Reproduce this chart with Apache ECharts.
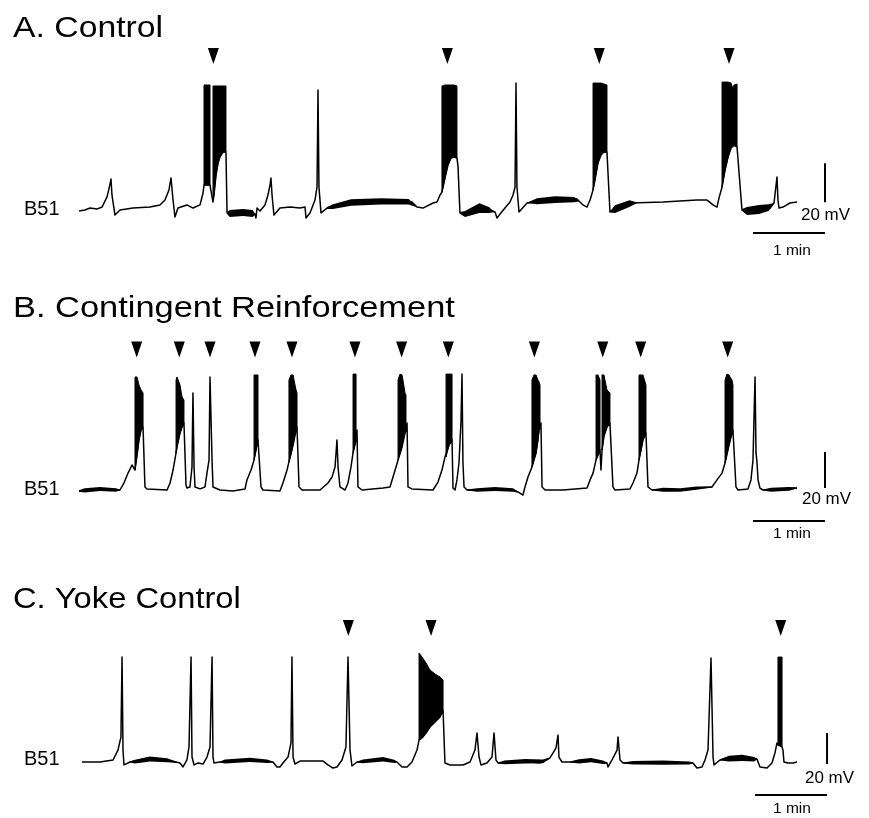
<!DOCTYPE html>
<html><head><meta charset="utf-8">
<script src="https://cdn.jsdelivr.net/npm/echarts@6/dist/echarts.min.js"></script>
<style>html,body{margin:0;padding:0;background:#fff}#c{width:869px;height:818px}</style>
</head><body><div id="c"></div>
<script>
// time in seconds, membrane potential in mV

// ---------- Panel A: Control ----------
const traceA = [
[3.3,-60.5],[8.3,-60],[12.5,-59.0],[18.3,-59.5],[22.5,-58.5],[26.7,-53.3],[29.2,-46.7],[30,-44.1],[30.8,-52.3],[33.3,-62.6],[37.5,-60],[48.3,-59.0],[62.5,-58.5],[70.8,-57.4],[75,-54.9],[78.3,-49.7],[80,-43.6],[81.7,-54.9],[83.3,-63.6],[85.8,-59.0],[93.3,-57.4],[98.3,-59.0],[104.2,-57.4],[106.7,-51.3],[107.5,-47.2],[112.5,-47.2],[113.3,-48.2],[115,-55.9],[115.8,-52.3],[117.5,-42.1],[119.2,-35.9],[120.8,-32.8],[123.3,-30.3],[125.8,-30.3],[126.7,-61.5],[129.2,-62.1],[137.5,-62.1],[145.8,-61.5],[150,-62.1],[150.8,-64.1],[151.7,-59.0],[154.2,-60.5],[158.3,-57.4],[160.8,-52.3],[162.5,-47.2],[163.3,-43.6],[164.2,-52.3],[165.8,-62.6],[170.8,-59.0],[179.2,-58.5],[187.5,-59.0],[191.7,-58.5],[192.5,-64.1],[195.8,-61.5],[200,-54.9],[201.7,-48.2],[202.5,1.5],[203.3,-48.2],[205,-61.5],[210,-59.0],[229.2,-56.4],[243.3,-55.9],[256.7,-55.9],[270.8,-55.4],[280.8,-55.9],[285,-58.5],[290,-59.0],[298.3,-56.4],[301.7,-55.9],[304.2,-52.3],[305.8,-50.8],[308.3,-43.6],[310.8,-36.9],[313.3,-33.3],[315.8,-32.8],[318.3,-33.3],[319.2,-37.9],[320.8,-61.5],[325,-62.6],[329.2,-61.0],[337.5,-59.0],[345.8,-60],[350,-61.0],[351.7,-64.1],[354.2,-62.1],[358.3,-59.0],[362.5,-55.9],[365,-52.3],[366.7,-48.2],[367.5,5.1],[368.3,-48.2],[370,-61.0],[376.7,-56.4],[393.3,-54.9],[406.7,-54.9],[418.3,-54.4],[423.3,-57.4],[426.7,-58.5],[429.2,-54.9],[431.7,-49.7],[433.3,-44.6],[435.8,-35.9],[438.3,-31.8],[440.8,-30.3],[443.3,-30.3],[445.8,-61.0],[451.7,-58.5],[462.5,-56.4],[490,-55.9],[518.3,-54.9],[526.7,-54.9],[531.7,-57.4],[535,-58.5],[536.7,-53.8],[539.2,-48.2],[541.7,-39.5],[544.2,-32.8],[546.7,-28.2],[549.2,-26.7],[551.7,-27.7],[555.8,-60],[562.5,-61.0],[570.8,-60.5],[579.2,-59.0],[582.5,-56.4],[585,-43.1],[585.8,-54.9],[586.7,-59.0],[590,-58.5],[595.8,-56.4],[601.7,-55.9]
];
// bursts: [time, lower envelope, upper envelope]
const burstsA = [
[[107.5,-47.2,4.1],[112.5,-47.2,4.1]],
[[115,-54.9,3.6],[115.8,-52.3,3.6],[117.5,-42.1,3.6],[119.2,-35.9,3.6],[120.8,-32.8,3.6],[123.3,-30.3,3.6],[125.8,-30.3,3.6]],
[[305.8,-50.8,3.6],[308.3,-43.6,4.1],[310.8,-36.9,4.1],[313.3,-33.3,4.1],[315.8,-32.8,4.1],[318.3,-33.3,3.6]],
[[431.7,-49.7,5.1],[433.3,-44.6,5.1],[435.8,-35.9,5.1],[438.3,-31.8,5.1],[440.8,-30.3,4.6],[443.3,-30.3,4.1]],
[[539.2,-48.2,5.6],[541.7,-39.5,5.6],[544.2,-32.8,5.6],[546.7,-28.2,5.1],[548.3,-27,2.1],[549.2,-26.7,4.1],[551.7,-27.7,4.6]]
];
// baseline noise envelopes: [time, lower, upper]
const noiseA = [
[[126.7,-62,-61],[129,-63.6,-60],[140,-63.1,-59.5],[148,-63.6,-60],[150,-62.5,-61.8]],
[[210,-59.5,-58.5],[215,-59.5,-57],[230,-57.8,-54.5],[255,-57.2,-54],[278,-57.2,-54.4],[285,-58.6,-58.2]],
[[321,-62,-61],[325,-63.6,-60.5],[337,-61.5,-56.5],[345,-61.5,-58.5],[349,-61.2,-60.8]],
[[377,-56.6,-56.2],[385,-57,-54],[400,-56.4,-53],[416,-56,-53.3],[420,-55.7,-55.1]],
[[446,-61.3,-60.7],[450,-61.5,-57.5],[462,-58.5,-55],[468,-56.5,-56]],
[[556,-60.5,-59.5],[560,-62.6,-58.5],[570,-62,-57.4],[578,-60.5,-57],[582,-57.1,-56.5]]
];
const arrowsA = [115.3, 310.3, 436.9, 545];

// ---------- Panel B: Contingent Reinforcement ----------
const traceB = [
[3.3,-60.6],[20.8,-59.4],[37.5,-60],[40.8,-56.1],[44.2,-50.6],[47.5,-46.1],[50,-48.9],[51.7,-40.6],[53.3,-32.2],[55,-26.7],[56.7,-25],[57.5,-25],[58.3,-58.3],[60,-59.4],[76.7,-60],[79.2,-56.1],[81.7,-48.9],[84.2,-39.4],[85,-36],[87.5,-28.3],[89.2,-25],[90.8,-22.8],[91.7,-22.8],[92.5,-57.2],[93.3,-58.9],[95.8,-58.3],[97.5,-47.2],[98.3,-6.1],[99.2,-47.2],[100,-58.3],[104.2,-59.4],[108.3,-58.3],[110,-50.6],[111.7,-43.3],[112.5,2.8],[114.2,-43.3],[115,-58.3],[120.8,-60],[131.7,-60.6],[141.7,-59.4],[143.3,-54.4],[146.7,-48.9],[149.2,-43.3],[150.8,-37.8],[152.5,-32.2],[153.3,-32.2],[155,-58.3],[156.7,-60],[170.8,-60.6],[173.3,-56.1],[176.7,-48.9],[178.3,-44.4],[181.7,-35],[184.2,-26.7],[185,-25],[185.8,-25],[186.7,-58.3],[189.2,-60],[204.2,-60],[210.8,-56.1],[214.2,-52.8],[216.7,-47.2],[218.3,-32.2],[219.2,-47.2],[220.8,-58.3],[225,-60],[227.5,-56.1],[230,-47.2],[231.7,-39.4],[234.2,-32.2],[235,-26.7],[235.8,-58.3],[239.2,-60],[256.7,-58.9],[262.5,-58.3],[265,-52.8],[267.5,-47.2],[269.2,-43.3],[272.5,-36.1],[275,-28.3],[275.8,-26.7],[276.7,-22.8],[277.5,-58.3],[280.8,-59.4],[298.3,-60],[302.5,-55.6],[305.8,-48.9],[308.3,-41.7],[309.2,-41.7],[311.7,-35],[314.2,-32.2],[315,-58.9],[316.7,-60],[318.3,-54.4],[320,-45],[321.7,-21.1],[322.5,4.4],[323.3,-45],[324.2,-58.3],[326.7,-60],[337.5,-60],[351.7,-59.4],[365,-60],[369.2,-61.1],[373.3,-62.8],[375,-58.3],[377.5,-52.8],[380.8,-47.2],[384.2,-39.4],[386.7,-26.7],[387.5,-25],[388.3,-22.8],[389.2,-58.3],[391.7,-60],[406.7,-60],[426.7,-58.9],[429.2,-54.4],[431.7,-50.6],[434.2,-43.3],[435.8,-40.6],[437.5,-37.8],[438.3,-48.9],[439.2,-37.8],[440.8,-30],[443.3,-25],[445.8,-22.8],[446.7,-22.8],[448.3,-58.3],[450,-60],[462.5,-59.4],[465,-56.1],[468.3,-50.6],[470,-43.3],[473.3,-32.2],[475.8,-28.3],[476.7,-28.3],[477.5,-58.3],[480.8,-60],[504.2,-60],[518.3,-58.9],[530.8,-58.3],[535,-54.4],[539.2,-50.6],[541.7,-45],[545,-35],[547.5,-28.3],[548.3,-26.7],[549.2,-26.7],[550.8,-58.3],[552.5,-60],[560.8,-59.4],[563.3,-54.4],[565,-43.3],[565.8,-21.1],[566.7,2.8],[567.5,-39.4],[568.3,-44.4],[569.2,-54.4],[570.8,-58.9],[573.3,-60],[587.5,-59.4],[601.7,-58.9]
];
const burstsB = [
[[50,-48.9,2.8],[51.7,-40.6,2.8],[53.3,-32.2,-1.7],[55,-26.7,-4.4],[56.7,-25,-6.1]],
[[84.2,-39.4,1.1],[85,-36,2.8],[87.5,-28.3,-1.7],[89.2,-25,-8.3],[90.8,-22.8,-10]],
[[149.2,-43.3,3.9],[150.8,-37.8,3.9],[152.5,-32.2,3.9]],
[[178.3,-44.4,1.1],[180,-40,3.9],[181.7,-35,3.9],[182.5,-32,1.1],[184.2,-26.7,-4.4],[185,-25,-6.1]],
[[231.7,-39.4,4.4],[234.2,-32.2,4.4]],
[[269.2,-43.3,1.1],[270.8,-40,4.4],[272.5,-36.1,3.9],[273.3,-33,1.1],[275,-28.3,-6.1],[275.8,-26.7,-7.2]],
[[309.2,-41.7,4.4],[311.7,-35,4.4],[314.2,-32.2,4.4]],
[[380.8,-47.2,1.1],[382.5,-43,3.9],[384.2,-39.4,3.9],[385.8,-33,1.1],[386.7,-26.7,0],[387.5,-25,-1.7]],
[[434.2,-43.3,3.9],[435.8,-40.6,3.9],[437.5,-37.8,1.1]],
[[439.2,-37.8,3.9],[440.8,-30,3.9],[443.3,-25,-4.4],[445.8,-22.8,-6.1]],
[[470,-43.3,3.9],[471.7,-38,3.9],[473.3,-32.2,3.9],[475.8,-28.3,-1.7]],
[[541.7,-45,1.1],[543.3,-40,4.4],[545,-35,3.9],[545.8,-33,2.8],[547.5,-28.3,1.1],[548.3,-26.7,-1.7]]
];
const noiseB = [
[[3.3,-61,-60.2],[8,-61.4,-59],[20.8,-60.6,-58.4],[34,-61,-59],[37.5,-60.3,-59.7]],
[[326.7,-60.3,-59.7],[335,-61,-59],[350,-60.6,-58.4],[365,-61,-59],[369,-61.4,-60.8]],
[[480.8,-60.3,-59.7],[490,-61,-58.8],[504.2,-61,-59],[518,-59.8,-58],[530.8,-58.6,-58]],
[[573.3,-60.3,-59.7],[580,-61,-58.8],[595,-60.4,-58.4],[601.7,-59.2,-58.6]]
];
const arrowsB = [51.4, 86.9, 112.5, 150, 180.8, 233.3, 272.2, 311.1, 382.8, 439.8, 471.4, 543.9];

// ---------- Panel C: Yoke Control ----------
const traceC = [
[5.8,-60],[20.8,-60],[31.7,-58.7],[35.8,-52.3],[38.3,-43.9],[39.2,7.7],[40,-52.3],[40.8,-61.9],[45.8,-60],[62.5,-57.4],[76.7,-58.7],[87.5,-60.6],[90,-63.2],[93.3,-58.7],[95,-50.3],[96.7,7.7],[97.5,-56.8],[99.2,-61.9],[102.5,-60.6],[106.7,-61.3],[110,-56.8],[112.5,-50.3],[114.2,7.7],[115,-56.8],[115.8,-60.6],[120.8,-60],[145.8,-58.7],[165,-60],[168.3,-63.2],[170.8,-63.2],[173.3,-60.6],[177.5,-56.8],[180,-47.7],[180.8,7.7],[181.7,-56.8],[183.3,-61.3],[187.5,-59.4],[206.7,-59.4],[210.8,-61.9],[215,-63.9],[218.3,-63.2],[222.5,-58.7],[225.8,-50.3],[227.5,7.7],[229.2,-52.3],[230.8,-62.6],[235,-60],[256.7,-58.1],[268.3,-60],[272.5,-63.2],[276.7,-63.2],[280.8,-60],[285,-52.3],[286.7,-45.8],[289.2,-44.5],[292.5,-41.3],[295.8,-37.4],[300,-34.2],[304.2,-31],[306.7,-26.5],[308.3,-60.6],[312.5,-61.9],[323.3,-61.9],[329.2,-60],[333.3,-52.3],[335,-41.3],[336.7,-56.8],[338.3,-61.9],[343.3,-60.6],[347.5,-56.8],[349.2,-41.3],[350.8,-58.7],[352.5,-60.6],[365,-60],[379.2,-60],[387.5,-60.6],[395.8,-57.4],[400.8,-51],[402.5,-42.6],[403.3,-56.8],[405.8,-60],[412.5,-60],[429.2,-58.7],[443.3,-60.6],[444.2,-63.2],[447.5,-58.7],[451.7,-52.3],[452.5,-43.9],[454.2,-58.7],[456.7,-60.6],[476.7,-60.6],[504.2,-60.6],[515,-60.6],[518.3,-63.9],[522.5,-63.2],[525,-58.7],[527.5,-52.3],[530,7.1],[531.7,-56.8],[532.5,-61.9],[537.5,-58.7],[545.8,-56.8],[568.3,-58.1],[570.8,-63.2],[576.7,-63.9],[580.8,-60.6],[583.3,-54.2],[585,-47.7],[585.8,-49],[587.5,-49.5],[589.2,-50.3],[590,-52.3],[590.8,-60],[594.2,-60.6],[598.3,-60.6],[601.7,-60]
];
const burstsC = [
[[286.7,-45.8,10.3],[289.2,-44.5,7.7],[292.5,-41.3,3.9],[295.8,-37.4,-0.6],[300,-34.2,-3.2],[304.2,-31,-5.2],[306.7,-26.5,-7.1]],
[[585.8,-49,7.7],[587.5,-49.5,7.7],[589.2,-50.3,7.7]]
];
const noiseC = [
[[45.8,-60.3,-59.7],[50,-61,-58.6],[62.5,-59.6,-56.4],[76.7,-60.2,-57.6],[86,-60.7,-60.1]],
[[120.8,-60.3,-59.7],[125,-61,-58.4],[145.8,-60,-57.2],[160,-60.6,-58.4],[165,-60.3,-59.7]],
[[235,-60.3,-59.7],[240,-60.8,-58.4],[256.7,-59.6,-56.8],[266,-60.6,-58.6],[268.3,-60.3,-59.7]],
[[352.5,-60.9,-60.3],[358,-61.4,-59],[375,-61,-58],[390,-60.8,-58.4],[395.8,-57.7,-57.1]],
[[412.5,-60.3,-59.7],[420,-61,-58.2],[430,-60.2,-57.4],[440,-61.3,-59],[443.3,-60.9,-60.3]],
[[456.7,-60.9,-60.3],[465,-61.6,-59.4],[490,-61.8,-59],[512,-61.6,-59.6],[515,-60.9,-60.3]],
[[537.5,-59,-58.4],[545,-59.6,-56],[556,-59.4,-55.4],[566,-59.6,-56.8],[568.3,-58.4,-57.8]]
];
const arrowsC = [227.8, 296.7, 588.1];

const titles = ['A. Control', 'B. Contingent Reinforcement', 'C. Yoke Control'];
const cellLabel = 'B51';
const scaleV = '20 mV', scaleH = '1 min';
const scaleMv = 20, scaleSec = 60;

// ---------- layout ----------
const FONT = '"Liberation Sans", Arial, Helvetica, sans-serif';
const panels = [
  {trace: traceA, bursts: burstsA, noise: noiseA, arrows: arrowsA,
   top: 34.5, height: 214.5, yMin: -80, yMax: 30, arrowY: 19,
   barT: 565, barV: -56, barH: -71.8,
   titleY: 28.5, titleSX: 1.125, labelY: 209, mvY: 215.5, mvX: 801, minY: 250.5},
  {trace: traceB, bursts: burstsB, noise: noiseB, arrows: arrowsB,
   top: 328, height: 198, yMin: -80, yMax: 30, arrowY: 18.1,
   barT: 565, barV: -58.9, barH: -77.2,
   titleY: 308.5, titleSX: 1.147, labelY: 489.5, mvY: 500, mvX: 802, minY: 534},
  {trace: traceC, bursts: burstsC, noise: noiseC, arrows: arrowsC,
   top: 622.5, height: 178.25, yMin: -85, yMax: 30, arrowY: 26.5,
   barT: 566.7, barV: -61.3, barH: -81.3,
   titleY: 600, titleSX: 1.09, labelY: 759.5, mvY: 779, mvX: 805, minY: 809}
];

function envelopeSeries(envs, gi, strokeW) {
  return {
    type: 'custom', xAxisIndex: gi, yAxisIndex: gi, silent: true, animation: false, clip: false, z: 3,
    data: envs.map((e, i) => [e[0][0], e[0][1], i]),
    renderItem: function (params, api) {
      const e = envs[params.dataIndex];
      const up = e.map(p => api.coord([p[0], p[2]]));
      const lo = e.slice().reverse().map(p => api.coord([p[0], p[1]]));
      return {type: 'polygon', shape: {points: up.concat(lo)},
              style: {fill: '#000', stroke: strokeW ? '#000' : null, lineWidth: strokeW}};
    }
  };
}

const grids = [], xAxes = [], yAxes = [], series = [], graphics = [];
panels.forEach((p, gi) => {
  grids.push({left: 75, width: 756, top: p.top, height: p.height});
  xAxes.push({type: 'value', gridIndex: gi, min: 0, max: 630, show: false});
  yAxes.push({type: 'value', gridIndex: gi, min: p.yMin, max: p.yMax, show: false});
  series.push({type: 'line', xAxisIndex: gi, yAxisIndex: gi, data: p.trace, showSymbol: false,
    symbol: 'none', animation: false, silent: true, z: 4,
    lineStyle: {color: '#000', width: 1.5, join: 'round'}});
  series.push(envelopeSeries(p.bursts, gi, 1));
  series.push(envelopeSeries(p.noise, gi, 0));
  series.push({type: 'scatter', xAxisIndex: gi, yAxisIndex: gi, silent: true, animation: false,
    symbol: 'path://M0,0L10,0L5,15Z', symbolSize: [11, 16], itemStyle: {color: '#000', opacity: 1},
    data: p.arrows.map(t => [t, p.arrowY])});
  // scale bars
  series.push({type: 'line', xAxisIndex: gi, yAxisIndex: gi, silent: true, animation: false, clip: false,
    symbol: 'none', lineStyle: {color: '#000', width: 2},
    data: [[p.barT + scaleSec, p.barV], [p.barT + scaleSec, p.barV + scaleMv]]});
  series.push({type: 'line', xAxisIndex: gi, yAxisIndex: gi, silent: true, animation: false, clip: false,
    symbol: 'none', lineStyle: {color: '#000', width: 2},
    data: [[p.barT, p.barH], [p.barT + scaleSec, p.barH]]});
  // texts
  graphics.push({type: 'text', x: 13, y: p.titleY, scaleX: p.titleSX, silent: true,
    style: {text: titles[gi], font: '30px ' + FONT, fill: '#000', textVerticalAlign: 'middle', textAlign: 'left'}});
  graphics.push({type: 'text', x: 24, y: p.labelY, silent: true,
    style: {text: cellLabel, font: '20px ' + FONT, fill: '#000', textVerticalAlign: 'middle', textAlign: 'left'}});
  graphics.push({type: 'text', x: p.mvX, y: p.mvY, scaleX: 1.06, silent: true,
    style: {text: scaleV, font: '16px ' + FONT, fill: '#000', textVerticalAlign: 'middle', textAlign: 'left'}});
  graphics.push({type: 'text', x: 773, y: p.minY, silent: true,
    style: {text: scaleH, font: '15.5px ' + FONT, fill: '#000', textVerticalAlign: 'middle', textAlign: 'left'}});
});

const chart = echarts.init(document.getElementById('c'), null, {renderer: 'canvas'});
chart.setOption({
  animation: false,
  backgroundColor: '#fff',
  grid: grids, xAxis: xAxes, yAxis: yAxes, series: series,
  graphic: {elements: graphics}
});
</script></body></html>
